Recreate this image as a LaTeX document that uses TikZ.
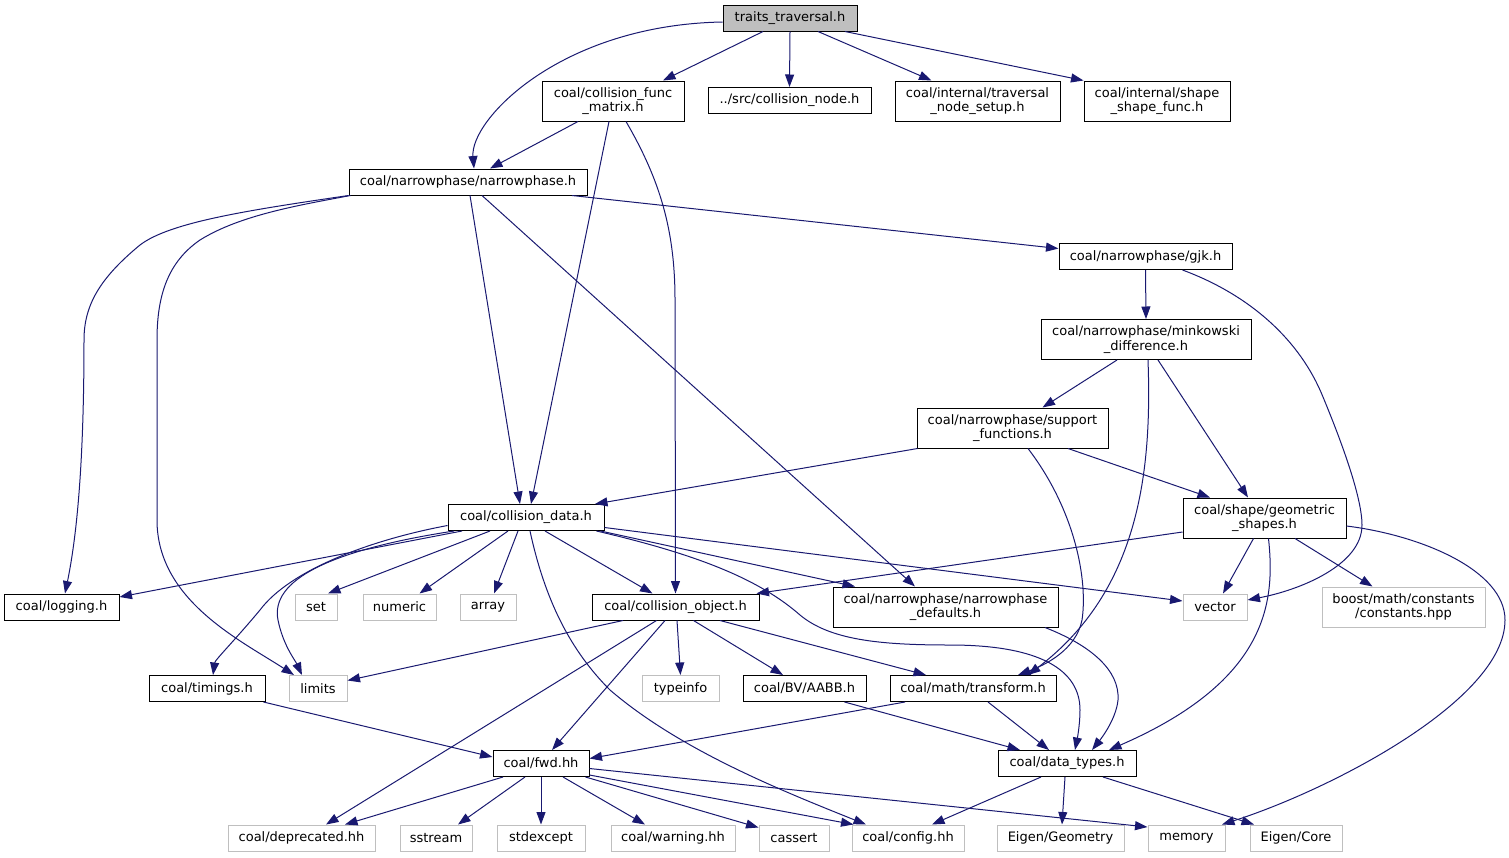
\documentclass[tikz,border=0pt]{standalone}
\usepackage{fontspec}
\setmainfont{DejaVu Sans}
\usetikzlibrary{arrows.meta}
\definecolor{edgec}{HTML}{191970}
\definecolor{rootfill}{HTML}{BFBFBF}
\definecolor{sysline}{HTML}{BFBFBF}
\begin{document}
\begin{tikzpicture}[x=1pt,y=-1pt,
  nd/.style={draw=black, fill=white, line width=1pt, inner sep=0pt, align=center,
    font=\fontsize{13}{14.5}\selectfont, minimum height=26pt},
  nd2/.style={nd, minimum height=40pt},
  sysnd/.style={nd, draw=sysline},
  sysnd2/.style={nd2, draw=sysline},
  rootnd/.style={nd, fill=rootfill},
  dep/.style={draw=edgec, line width=1pt, -{Triangle[length=12.5pt,width=9pt]}}
]
\useasboundingbox (0,0) rectangle (1509,857);
% nodes
\node[rootnd, minimum width=134pt] (trav) at (790,18) {traits\_traversal.h};
\node[nd2, minimum width=142pt] (cfm) at (613,101) {coal/collision\_func\\\_matrix.h};
\node[nd, minimum width=163pt] (cnode) at (789.5,100.5) {../src/collision\_node.h};
\node[nd2, minimum width=165pt] (tns) at (977.5,101) {coal/internal/traversal\\\_node\_setup.h};
\node[nd2, minimum width=146pt] (ssf) at (1157,101) {coal/internal/shape\\\_shape\_func.h};
\node[nd, minimum width=238pt] (np) at (468,182) {coal/narrowphase/narrowphase.h};
\node[nd, minimum width=173pt] (gjk) at (1145.5,256.5) {coal/narrowphase/gjk.h};
\node[nd2, minimum width=210pt] (mink) at (1146,339.5) {coal/narrowphase/minkowski\\\_difference.h};
\node[nd2, minimum width=191pt] (supp) at (1012.5,428) {coal/narrowphase/support\\\_functions.h};
\node[nd, minimum width=156pt] (cdata) at (526,517.5) {coal/collision\_data.h};
\node[nd2, minimum width=163pt] (geom) at (1264.5,518) {coal/shape/geometric\\\_shapes.h};
\node[nd, minimum width=115pt] (logging) at (61.5,607) {coal/logging.h};
\node[sysnd, minimum width=42pt] (set) at (316,607) {set};
\node[sysnd, minimum width=73pt] (numeric) at (399.5,607) {numeric};
\node[sysnd, minimum width=56pt] (array) at (488,607) {array};
\node[nd, minimum width=167pt] (cobj) at (675.5,607) {coal/collision\_object.h};
\node[nd2, minimum width=225pt] (npdef) at (945.5,607) {coal/narrowphase/narrowphase\\\_defaults.h};
\node[sysnd, minimum width=64pt] (vector) at (1215,607) {vector};
\node[sysnd2, minimum width=163pt] (boost) at (1403.5,607) {boost/math/constants\\/constants.hpp};
\node[nd, minimum width=116pt] (timings) at (207,688.5) {coal/timings.h};
\node[sysnd, minimum width=58pt] (limits) at (318,688.5) {limits};
\node[sysnd, minimum width=77pt] (typeinfo) at (680.5,688.5) {typeinfo};
\node[nd, minimum width=123pt] (aabb) at (804.5,688.5) {coal/BV/AABB.h};
\node[nd, minimum width=166pt] (transform) at (973,688.5) {coal/math/transform.h};
\node[nd, minimum width=96pt] (fwd) at (541,763.5) {coal/fwd.hh};
\node[nd, minimum width=138pt] (dtypes) at (1067,763.5) {coal/data\_types.h};
\node[sysnd, minimum width=147pt] (deprecated) at (301.5,838) {coal/deprecated.hh};
\node[sysnd, minimum width=72pt] (sstream) at (436,838) {sstream};
\node[sysnd, minimum width=88pt] (stdexcept) at (541,838) {stdexcept};
\node[sysnd, minimum width=124pt] (warning) at (673,838) {coal/warning.hh};
\node[sysnd, minimum width=70pt] (cassert) at (794,838) {cassert};
\node[sysnd, minimum width=112pt] (config) at (908,838) {coal/config.hh};
\node[sysnd, minimum width=127pt] (eigeom) at (1060.5,838) {Eigen/Geometry};
\node[sysnd, minimum width=77pt] (memory) at (1186.5,838) {memory};
\node[sysnd, minimum width=92pt] (eicore) at (1296,838) {Eigen/Core};
% edges from traits_traversal.h
\draw[dep] ([yshift=-4pt]trav.west) .. controls (560,25) and (470,120) .. ([xshift=6pt]np.north);
\draw[dep] ([xshift=-27pt]trav.south) -- ([xshift=50pt]cfm.north);
\draw[dep] (trav.south) -- (cnode.north);
\draw[dep] ([xshift=28pt]trav.south) -- ([xshift=-46pt]tns.north);
\draw[dep] ([xshift=55pt]trav.south) -- (ssf.north west);
% collision_func_matrix
\draw[dep] ([xshift=-35pt]cfm.south) -- ([xshift=22pt]np.north);
\draw[dep] ([xshift=-4pt]cfm.south) -- ([xshift=5pt]cdata.north);
\draw[dep] ([xshift=13pt]cfm.south) .. controls (660,180) and (675,230) .. (675,300) -- (cobj.north);
% narrowphase.h
\draw[dep] (np.south west) .. controls (250,210) and (170,222) .. (140,245) .. controls (100,278) and (84,305) .. (84,340) .. controls (84,470) and (76,540) .. ([xshift=3.5pt]logging.north);
\draw[dep] ([xshift=2pt]np.south west) .. controls (300,205) and (240,215) .. (200,240) .. controls (168,262) and (157,295) .. (157,340) -- (157,520) .. controls (157,600) and (240,640) .. ([xshift=-24pt]limits.north);
\draw[dep] ([xshift=2pt]np.south) -- ([xshift=-6pt]cdata.north);
\draw[dep] ([xshift=14pt]np.south) -- ([xshift=-30.5pt]npdef.north);
\draw[dep] ([xshift=104pt]np.south) -- ([yshift=8pt]gjk.west);
% gjk
\draw[dep] (gjk.south) -- (mink.north);
\draw[dep] ([xshift=37pt]gjk.south) .. controls (1250,295) and (1300,340) .. (1323,397) .. controls (1345,450) and (1362,500) .. (1362,525) .. controls (1362,565) and (1300,590) .. ([yshift=7pt]vector.east);
% minkowski
\draw[dep] ([xshift=-29pt]mink.south) -- ([xshift=30pt]supp.north);
\draw[dep] ([xshift=2pt]mink.south) .. controls (1152,470) and (1140,590) .. ([xshift=55pt]transform.north);
\draw[dep] ([xshift=12pt]mink.south) -- ([xshift=-16.5pt]geom.north);
% support
\draw[dep] ([xshift=-95pt]supp.south) -- ([xshift=69pt]cdata.north);
\draw[dep] ([xshift=15.5pt]supp.south) .. controls (1075,510) and (1088,580) .. (1082,620) .. controls (1076,650) and (1045,665) .. ([xshift=45pt]transform.north);
\draw[dep] ([xshift=55.5pt]supp.south) -- ([xshift=-54.5pt]geom.north);
% geometric shapes
\draw[dep] ([yshift=-14pt]geom.west) -- ([xshift=81pt]cobj.north);
\draw[dep] ([xshift=-11pt]geom.south) -- ([xshift=8pt]vector.north);
\draw[dep] ([xshift=4pt]geom.south) .. controls (1275,600) and (1270,680) .. ([xshift=42pt]dtypes.north);
\draw[dep] ([xshift=30.5pt]geom.south) -- ([xshift=-31pt]boost.north);
\draw[dep] ([yshift=-8pt]geom.east) .. controls (1420,535) and (1505,570) .. (1505,620) .. controls (1505,700) and (1330,790) .. ([xshift=35.5pt]memory.north);
% collision_data
\draw[dep] ([xshift=-64pt]cdata.south) -- ([yshift=10pt]logging.east);
\draw[dep] ([yshift=-8pt]cdata.west) .. controls (370,540) and (290,570) .. (260,610) .. controls (235,640) and (215,660) .. ([xshift=6pt]timings.north);
\draw[dep] ([xshift=-72pt]cdata.south) .. controls (330,550) and (270,580) .. (278,620) .. controls (283,645) and (295,660) .. ([xshift=-16pt]limits.north);
\draw[dep] ([xshift=-36pt]cdata.south) -- ([xshift=12pt]set.north);
\draw[dep] ([xshift=-18pt]cdata.south) -- ([xshift=20pt]numeric.north);
\draw[dep] ([xshift=-8pt]cdata.south) -- ([xshift=6pt]array.north);
\draw[dep] ([xshift=19pt]cdata.south) -- ([xshift=-23pt]cobj.north);
\draw[dep] ([xshift=-4pt]cdata.south east) -- ([xshift=-90.5pt]npdef.north);
\draw[dep] ([yshift=-10pt]cdata.east) -- ([yshift=6pt]vector.west);
\draw[dep] ([xshift=-8pt]cdata.south east) .. controls (700,555) and (760,580) .. (800,615) .. controls (830,640) and (880,645) .. (950,645) .. controls (1040,645) and (1080,670) .. (1080,710) .. controls (1080,725) and (1077,740) .. ([xshift=8pt]dtypes.north);
\draw[dep] ([xshift=4pt]cdata.south) .. controls (545,600) and (570,650) .. (610,690) .. controls (680,750) and (780,790) .. ([xshift=-42pt]config.north);
% collision_object
\draw[dep] ([xshift=-52.5pt]cobj.south) -- ([yshift=8pt]limits.east);
\draw[dep] ([xshift=-19pt]cobj.south) -- ([xshift=24.5pt]deprecated.north);
\draw[dep] ([xshift=-10.5pt]cobj.south) -- ([xshift=11pt]fwd.north);
\draw[dep] ([xshift=1.5pt]cobj.south) -- (typeinfo.north);
\draw[dep] ([xshift=18pt]cobj.south) -- ([xshift=-21.5pt]aabb.north);
\draw[dep] ([xshift=44.5pt]cobj.south) -- ([xshift=-47pt]transform.north);
% timings, AABB, transform, narrowphase_defaults
\draw[dep] ([xshift=-2pt]timings.south east) -- ([yshift=6.5pt]fwd.west);
\draw[dep] ([xshift=40pt]aabb.south) -- ([xshift=-47pt]dtypes.north);
\draw[dep] ([xshift=-68pt]transform.south) -- ([yshift=5pt]fwd.east);
\draw[dep] ([xshift=15pt]transform.south) -- ([xshift=-18pt]dtypes.north);
\draw[dep] ([xshift=99.5pt]npdef.south) .. controls (1090,645) and (1120,670) .. (1118,700) .. controls (1116,720) and (1100,740) .. ([xshift=25pt]dtypes.north);
% fwd.hh
\draw[dep] ([xshift=-38pt]fwd.south) -- ([xshift=43.5pt]deprecated.north);
\draw[dep] ([xshift=-16pt]fwd.south) -- ([xshift=22pt]sstream.north);
\draw[dep] (fwd.south) -- (stdexcept.north);
\draw[dep] ([xshift=22pt]fwd.south) -- ([xshift=-28pt]warning.north);
\draw[dep] ([xshift=-4pt]fwd.south east) -- ([yshift=-3pt]cassert.north west);
\draw[dep] ([yshift=2pt]fwd.south east) -- ([xshift=2pt]config.north west);
\draw[dep] ([yshift=-5pt]fwd.east) -- ([yshift=11pt]memory.west);
% data_types
\draw[dep] ([xshift=-26pt]dtypes.south) -- ([xshift=24pt]config.north);
\draw[dep] ([xshift=-2pt]dtypes.south) -- ([xshift=1.5pt]eigeom.north);
\draw[dep] ([xshift=36pt]dtypes.south) -- ([xshift=-42pt]eicore.north);
\end{tikzpicture}
\end{document}
